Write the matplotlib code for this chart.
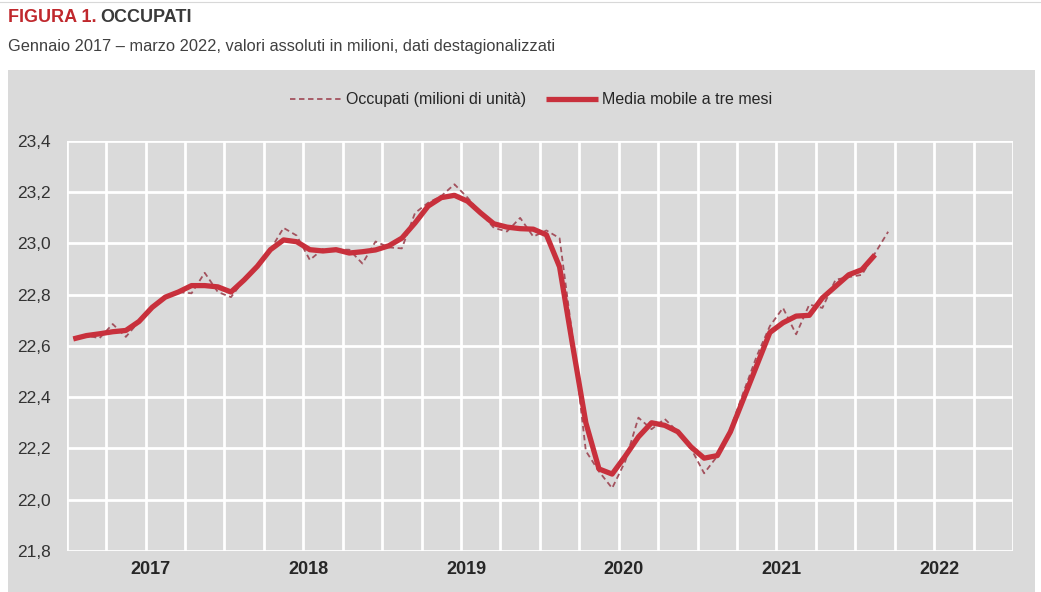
import matplotlib
matplotlib.use('Agg')
import matplotlib.pyplot as plt
from matplotlib.patches import Rectangle
import numpy as np

# data: Jan 2017 - Mar 2022, millions, seasonally adjusted
occupati = [22.63, 22.64, 22.63, 22.685, 22.635, 22.695, 22.75, 22.79, 22.81, 22.805,
            22.885, 22.81, 22.79, 22.857, 22.91, 22.975, 23.06, 23.03, 22.935, 22.978,
            22.975, 22.975, 22.921, 23.007, 22.984, 22.98, 23.118, 23.158, 23.184, 23.23,
            23.178, 23.118, 23.06, 23.046, 23.099, 23.026, 23.05, 23.02, 22.63, 22.19,
            22.11, 22.045, 22.15, 22.32, 22.275, 22.315, 22.265, 22.2, 22.103, 22.17,
            22.277, 22.42, 22.56, 22.677, 22.748, 22.645, 22.761, 22.748, 22.858, 22.868,
            22.877, 22.961, 23.045]
media_mobile = [22.627, 22.64, 22.647, 22.655, 22.66, 22.695, 22.75, 22.79, 22.81, 22.835,
                22.835, 22.83, 22.81, 22.857, 22.91, 22.975, 23.013, 23.006, 22.975, 22.97,
                22.975, 22.962, 22.967, 22.974, 22.99, 23.02, 23.079, 23.145, 23.178, 23.187,
                23.164, 23.118, 23.076, 23.063, 23.057, 23.055, 23.033, 22.908, 22.6, 22.3,
                22.12, 22.1, 22.17, 22.245, 22.3, 22.29, 22.265, 22.206, 22.162, 22.172,
                22.265, 22.394, 22.523, 22.652, 22.69, 22.716, 22.719, 22.787, 22.832, 22.877,
                22.897, 22.955]
anni = ['2017', '2018', '2019', '2020', '2021', '2022']
y_ticks = [21.8, 22.0, 22.2, 22.4, 22.6, 22.8, 23.0, 23.2, 23.4]

plt.rcParams['font.family'] = ['Liberation Sans', 'DejaVu Sans']

RED = '#c8303c'
DASH = '#a3525e'
PANEL = '#dadada'
TXT = '#262626'

W, H = 1041, 592
fig = plt.figure(figsize=(W / 100, H / 100), dpi=100)
fig.patch.set_facecolor('white')

# grey panel behind the chart
fig.patches.append(Rectangle((8 / W, 0.0), 1027 / W, 1 - 70 / H,
                             transform=fig.transFigure, facecolor=PANEL,
                             edgecolor='none', zorder=0))
# thin line at the very top
fig.add_artist(plt.Line2D([0, 1], [1 - 2 / H, 1 - 2 / H], color='#d8d8d8', lw=0.8))

# title: red part then grey part right after it
t1 = fig.text(8 / W, 1 - 18 / H, 'FIGURA 1.', color='#c0282d', fontsize=13,
              fontweight='bold', va='center', ha='left')
renderer = fig.canvas.get_renderer()
bb = t1.get_window_extent(renderer=renderer)
fig.text((bb.x1 + 4) / W, 1 - 18 / H, 'OCCUPATI', color='#3a3a3a', fontsize=13,
         fontweight='bold', va='center', ha='left')
fig.text(8 / W, 1 - 46 / H,
         'Gennaio 2017 \u2013 marzo 2022, valori assoluti in milioni, dati destagionalizzati',
         color='#404040', fontsize=11.8, va='center', ha='left')

ax = fig.add_axes([66.7 / W, 1 - 551 / H, (1013 - 66.7) / W, (551 - 140.7) / H])
ax.set_facecolor('none')
ax.set_zorder(2)

x_occ = np.arange(len(occupati)) + 0.5
x_mm = np.arange(len(media_mobile)) + 0.5

ax.plot(x_occ, occupati, color=DASH, lw=1.3, dashes=(3, 2),
        label='Occupati (milioni di unit\u00e0)', zorder=3)
ax.plot(x_mm, media_mobile, color=RED, lw=3.8, solid_capstyle='butt',
        label='Media mobile a tre mesi', zorder=4)

n_months = 12 * len(anni)
ax.set_xlim(0, n_months)
ax.set_ylim(y_ticks[0], y_ticks[-1])

# quarterly vertical grid, labels on years
ax.set_xticks(np.arange(0, n_months + 1, 3))
ax.set_xticklabels([])
ax.set_xticks([12 * k + 6.4 for k in range(len(anni))], minor=True)
ax.set_xticklabels(anni, minor=True, fontsize=13, fontweight='bold', color=TXT)
ax.tick_params(axis='x', which='both', length=0, pad=7)

ax.set_yticks(y_ticks)
ax.set_yticklabels(['{:.1f}'.format(v).replace('.', ',') for v in y_ticks],
                   fontsize=12.5, color='#333333')
ax.tick_params(axis='y', length=0, pad=11.5)

ax.grid(True, which='major', color='white', lw=2)
ax.set_axisbelow(True)
for sp in ax.spines.values():
    sp.set_visible(False)

leg = ax.legend(loc='center', bbox_to_anchor=(531 / W, 1 - 100 / H),
                bbox_transform=fig.transFigure, ncol=2, frameon=False,
                fontsize=11.5, handlelength=3.3, handletextpad=0.25,
                columnspacing=1.2)
for t in leg.get_texts():
    t.set_color(TXT)

fig.savefig('out.png', dpi=100, facecolor='white')
